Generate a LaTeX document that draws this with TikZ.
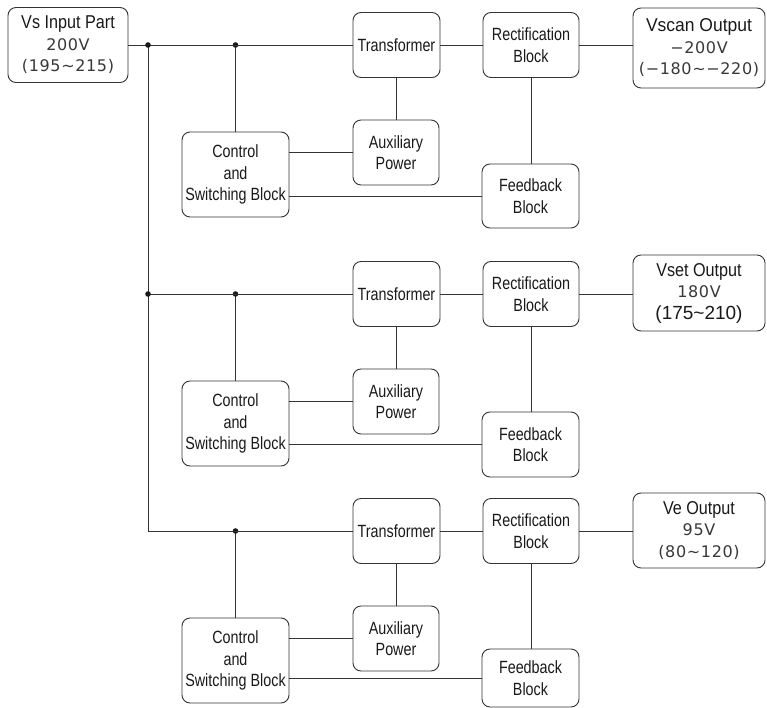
\documentclass[tikz,border=0pt]{standalone}
\usepackage{fontspec}
\setmainfont{Liberation Sans}[FakeStretch=0.81]
\newfontfamily\lblfam{Liberation Sans}[FakeStretch=0.87]
\newfontfamily\lblwidefam{Liberation Sans}[FakeStretch=0.94]
\newfontfamily\numfontfam{DejaVu Sans}[LetterSpace=4]
\newfontfamily\plainfontfam{Liberation Sans}
\newcommand{\nf}{\numfontfam\fontsize{16}{22}\selectfont\color{black!78}}
\newcommand{\pf}{\plainfontfam\fontsize{19}{22}\selectfont}
\newcommand{\lf}{\lblfam\fontsize{18.6}{22}\selectfont}
\newcommand{\lwf}{\lblwidefam\fontsize{18.6}{22}\selectfont}
\begin{document}
\begin{tikzpicture}[x=1pt,y=-1pt,
  every node/.style={font=\fontsize{17.7}{21.5}\selectfont, text=black!90},
  blk/.style={draw=black!80, line width=0.9pt, rounded corners=8pt, align=center, inner sep=0pt},
  wire/.style={draw=black!80, line width=0.9pt},
  jdot/.style={fill=black!90}]
\useasboundingbox (0,0) rectangle (767,708);

% input
\node[blk, minimum width=120, minimum height=75] (in) at (68,45) {{\lf Vs Input Part}\\{\nf 200V}\\{\nf (195\textasciitilde215)}};

% outputs
\node[blk, minimum width=132, minimum height=80] (out1) at (699,48) {{\lwf Vscan Output}\\{\nf −200V}\\{\nf (−180\textasciitilde−220)}};
\node[blk, minimum width=132, minimum height=76] (out2) at (699,293) {{\lf Vset Output}\\{\nf 180V}\\{\pf (175\textasciitilde210)}};
\node[blk, minimum width=132, minimum height=75] (out3) at (699,530.5) {{\lf Ve Output}\\{\nf 95V}\\{\nf (80\textasciitilde120)}};

\foreach \i/\ry/\fbh/\fby in {1/45/64/196, 2/294/65/444.5, 3/531/58/678}{
  \node[blk, minimum width=87, minimum height=65] (tr\i) at (396.5,\ry) {Transformer};
  \node[blk, minimum width=96, minimum height=65] (rc\i) at (531,\ry) {Rectification\\Block};
  \node[blk, minimum width=107, minimum height=85] (ctrl\i) at (235.5,\ry+129.5) {Control\\and\\Switching Block};
  \node[blk, minimum width=86, minimum height=65] (aux\i) at (396,\ry+107.5) {Auxiliary\\Power};
  \node[blk, minimum width=97, minimum height=\fbh] (fb\i) at (530.5,\fby) {Feedback\\Block};
  \coordinate (c\i) at (235.5,\ry);
  \draw[wire] (tr\i.east) -- (rc\i.west);
  \draw[wire] (rc\i.east) -- (rc\i.east -| out\i.west);
  \draw[wire] (tr\i.south) -- (tr\i.south |- aux\i.north);
  \draw[wire] (rc\i.south) -- (rc\i.south |- fb\i.north);
  \draw[wire] (aux\i.west) -- (aux\i.west -| ctrl\i.east);
  \draw[wire] (fb\i.west) -- (fb\i.west -| ctrl\i.east);
  \draw[wire] (c\i) -- (c\i |- ctrl\i.north);
  \fill[jdot] (c\i) circle (2.8);
}

% bus
\coordinate (b1) at (148,45);
\coordinate (b2) at (148,294);
\coordinate (b3) at (148,531);
\draw[wire] (in.east) -- (tr1.west);
\draw[wire] (b1) -- (b3) -- (tr3.west);
\draw[wire] (b2) -- (tr2.west);
\fill[jdot] (b1) circle (2.8);
\fill[jdot] (b2) circle (2.8);
\end{tikzpicture}
\end{document}
